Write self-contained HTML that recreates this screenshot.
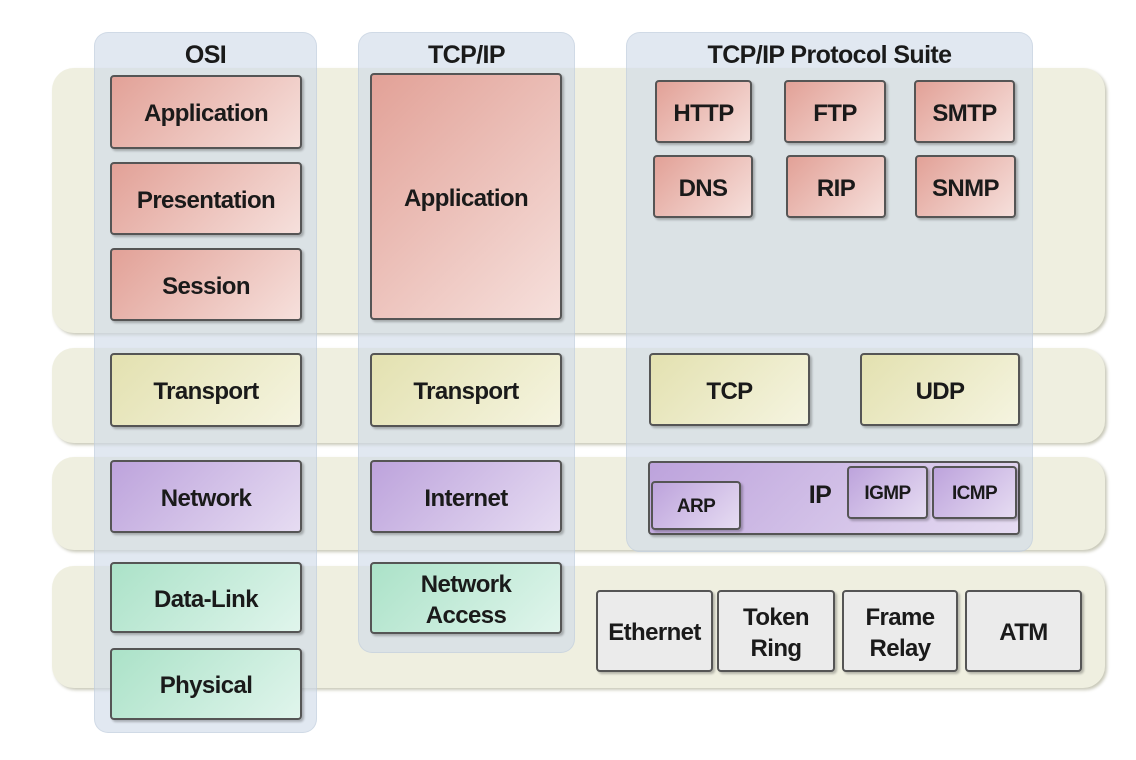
<!DOCTYPE html>
<html><head><meta charset="utf-8"><style>
body{margin:0;width:1136px;height:760px;background:#fff;position:relative;overflow:hidden;font-family:"Liberation Sans",sans-serif;}
div{position:absolute;box-sizing:border-box;}
.band{background:#efefe0;border-radius:22px;box-shadow:2px 2px 3px #c8c8b8;}
.col{background:rgba(205,216,232,0.6);border-radius:14px;border:1px solid rgba(185,198,215,0.4);}
.h{font-weight:bold;font-size:25px;color:#1a1a1a;text-align:center;letter-spacing:-0.6px;}
.b{border:2px solid #555;border-radius:4px;display:flex;align-items:center;justify-content:center;text-align:center;font-weight:bold;font-size:24px;color:#1a1a1a;letter-spacing:-0.6px;line-height:1.3;box-shadow:2px 2px 2px rgba(0,0,0,0.25);padding-top:4px;}
.r{background:linear-gradient(135deg,#e2a197,#f6e0dc);}
.o{background:linear-gradient(135deg,#e3e1b0,#f5f4e0);}
.p{background:linear-gradient(135deg,#bda3dc,#e6dcf2);}
.g{background:linear-gradient(135deg,#abe2c8,#e0f5ec);}
.w{background:#ebebeb;}
.s{font-size:19px;}
</style></head><body>
<div class="band" style="left:52px;top:68px;width:1053px;height:265px"></div>
<div class="band" style="left:52px;top:348px;width:1053px;height:95px"></div>
<div class="band" style="left:52px;top:457px;width:1053px;height:93px"></div>
<div class="band" style="left:52px;top:566px;width:1053px;height:122px"></div>

<div class="col" style="left:94px;top:32px;width:223px;height:701px"></div>
<div class="col" style="left:358px;top:32px;width:217px;height:621px"></div>
<div class="col" style="left:626px;top:32px;width:407px;height:520px"></div>

<div class="h" style="left:94px;top:41px;width:223px">OSI</div>
<div class="h" style="left:358px;top:41px;width:217px">TCP/IP</div>
<div class="h" style="left:626px;top:41px;width:407px">TCP/IP Protocol Suite</div>

<div class="b r" style="left:110px;top:75px;width:192px;height:74px">Application</div>
<div class="b r" style="left:110px;top:162px;width:192px;height:73px">Presentation</div>
<div class="b r" style="left:110px;top:248px;width:192px;height:73px">Session</div>
<div class="b o" style="left:110px;top:353px;width:192px;height:74px">Transport</div>
<div class="b p" style="left:110px;top:460px;width:192px;height:73px">Network</div>
<div class="b g" style="left:110px;top:562px;width:192px;height:71px">Data-Link</div>
<div class="b g" style="left:110px;top:648px;width:192px;height:72px">Physical</div>

<div class="b r" style="left:370px;top:73px;width:192px;height:247px">Application</div>
<div class="b o" style="left:370px;top:353px;width:192px;height:74px">Transport</div>
<div class="b p" style="left:370px;top:460px;width:192px;height:73px">Internet</div>
<div class="b g" style="left:370px;top:562px;width:192px;height:72px">Network<br>Access</div>

<div class="b r" style="left:655px;top:80px;width:97px;height:63px">HTTP</div>
<div class="b r" style="left:784px;top:80px;width:102px;height:63px">FTP</div>
<div class="b r" style="left:914px;top:80px;width:101px;height:63px">SMTP</div>
<div class="b r" style="left:653px;top:155px;width:100px;height:63px">DNS</div>
<div class="b r" style="left:786px;top:155px;width:100px;height:63px">RIP</div>
<div class="b r" style="left:915px;top:155px;width:101px;height:63px">SNMP</div>

<div class="b o" style="left:649px;top:353px;width:161px;height:73px">TCP</div>
<div class="b o" style="left:860px;top:353px;width:160px;height:73px">UDP</div>

<div class="b p" style="left:648px;top:461px;width:372px;height:74px"></div>
<div class="h" style="left:800px;top:481px;width:40px;font-size:25px">IP</div>
<div class="b p s" style="left:651px;top:481px;width:90px;height:49px">ARP</div>
<div class="b p s" style="left:847px;top:466px;width:81px;height:53px">IGMP</div>
<div class="b p s" style="left:932px;top:466px;width:85px;height:53px">ICMP</div>

<div class="b w" style="left:596px;top:590px;width:117px;height:82px">Ethernet</div>
<div class="b w" style="left:717px;top:590px;width:118px;height:82px">Token<br>Ring</div>
<div class="b w" style="left:842px;top:590px;width:116px;height:82px">Frame<br>Relay</div>
<div class="b w" style="left:965px;top:590px;width:117px;height:82px">ATM</div>
</body></html>
